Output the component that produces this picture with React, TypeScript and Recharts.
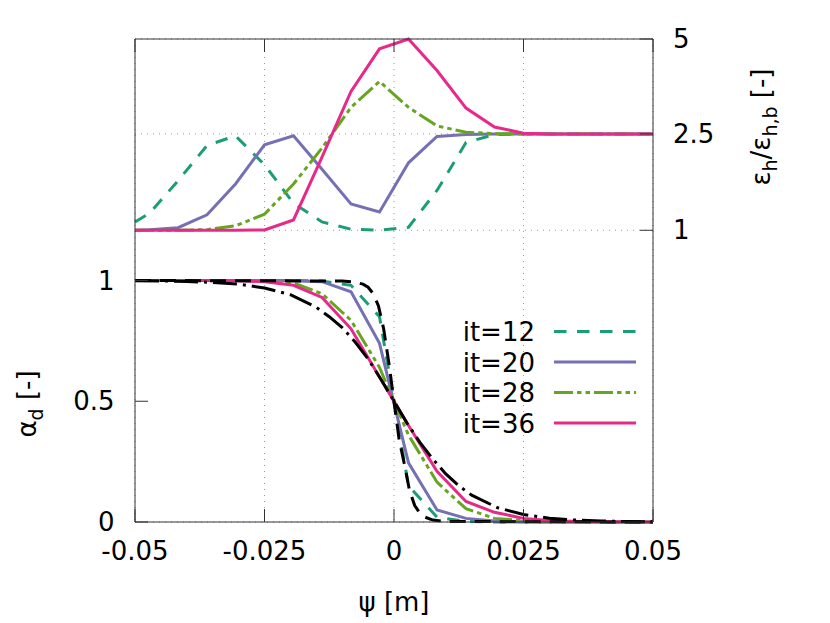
import { LineChart, Line, XAxis, YAxis, CartesianGrid, Legend } from "recharts"

const FONT = "DejaVu Sans"

// walls and the 18 cell centres of the mesh
const psi = [
  -0.05, -0.0472, -0.0417, -0.0361, -0.0306, -0.025, -0.0194, -0.0139, -0.0083, -0.0028,
  0.0028, 0.0083, 0.0139, 0.0194, 0.025, 0.0306, 0.0361, 0.0417, 0.0472, 0.05,
]

// volume fraction per iteration
const alpha12 = [1, 1, 1, 1, 1, 1, 1, 0.998, 0.98, 0.85, 0.15, 0.02, 0.002, 0, 0, 0, 0, 0, 0, 0]
const alpha20 = [1, 1, 1, 1, 1, 1, 0.999, 0.995, 0.953, 0.74, 0.245, 0.05, 0.015, 0.004, 0.001, 0, 0, 0, 0, 0]
const alpha28 = [1, 1, 1, 1, 1, 0.997, 0.99, 0.945, 0.835, 0.64, 0.36, 0.165, 0.055, 0.015, 0.006, 0.002, 0, 0, 0, 0]
const alpha36 = [1, 1, 1, 1, 0.999, 0.995, 0.98, 0.93, 0.8, 0.6, 0.4, 0.21, 0.085, 0.04, 0.015, 0.005, 0.002, 0.001, 0, 0]

// eps_h / eps_h,b per iteration
const eps12 = [1.13, 1.265, 1.77, 2.32, 2.47, 2.02, 1.42, 1.13, 1.016, 1.0, 1.047, 1.62, 2.365, 2.49, 2.5, 2.5, 2.5, 2.5, 2.5, 2.5]
const eps20 = [1.0, 1.01, 1.04, 1.24, 1.72, 2.33, 2.47, 1.95, 1.41, 1.285, 2.05, 2.46, 2.49, 2.5, 2.5, 2.5, 2.5, 2.5, 2.5, 2.5]
const eps28 = [1.0, 1.0, 1.0, 1.01, 1.07, 1.25, 1.72, 2.28, 3.2, 3.88, 3.2, 2.71, 2.545, 2.505, 2.5, 2.5, 2.5, 2.5, 2.5, 2.5]
const eps36 = [1.0, 1.0, 1.0, 1.0, 1.0, 1.005, 1.16, 2.14, 3.62, 4.74, 5.0, 4.17, 3.18, 2.68, 2.52, 2.5, 2.5, 2.5, 2.5, 2.5]

// the two reference profiles (sharp and wide)
const sharpPsi = [-0.05, -0.01, -0.0075, -0.006, -0.005, -0.004, -0.003, -0.002, -0.001, 0, 0.001, 0.002, 0.003, 0.004, 0.005, 0.006, 0.0075, 0.01, 0.05]
const sharpAlpha = [1, 0.998, 0.993, 0.985, 0.972, 0.945, 0.895, 0.8, 0.66, 0.5, 0.34, 0.24, 0.13, 0.068, 0.037, 0.02, 0.008, 0.002, 0]
const widePsi = [
  -0.05, -0.045, -0.04, -0.035, -0.03, -0.025, -0.02, -0.015, -0.0125, -0.01, -0.0075, -0.005, -0.0025, 0,
  0.0025, 0.005, 0.0075, 0.01, 0.0125, 0.015, 0.02, 0.025, 0.03, 0.035, 0.04, 0.045, 0.05,
]
const wideAlpha = [
  0.999, 0.998, 0.996, 0.992, 0.985, 0.969, 0.941, 0.889, 0.85, 0.805, 0.745, 0.675, 0.59, 0.5,
  0.41, 0.33, 0.26, 0.199, 0.15, 0.111, 0.059, 0.031, 0.016, 0.008, 0.004, 0.002, 0.001,
]

const xTicks = [-0.05, -0.025, 0, 0.025, 0.05]
const alphaTicks = [0, 0.5, 1]
const epsTicks = [1, 2.5, 5]
// the eps axis is not uniform: its ticks sit at these heights of the shared 0-2 scale
const epsTickHeights = [1.208, 1.607, 2]

function epsToAxis(e: number) {
  const k = e <= epsTicks[1] ? 0 : 1
  const t = (e - epsTicks[k]) / (epsTicks[k + 1] - epsTicks[k])
  return epsTickHeights[k] + t * (epsTickHeights[k + 1] - epsTickHeights[k])
}

const rows = (xs: number[], ys: number[]) => xs.map((x, i) => ({ x, y: ys[i] }))

const runs = [
  { name: "it=12", color: "#1b9e77", dash: "12.5 10.5", alpha: alpha12, eps: eps12 },
  { name: "it=20", color: "#7570b3", dash: undefined, alpha: alpha20, eps: eps20 },
  { name: "it=28", color: "#66a61e", dash: "19 4 4.5 4 4.5 4", alpha: alpha28, eps: eps28 },
  { name: "it=36", color: "#e7298a", dash: undefined, alpha: alpha36, eps: eps36 },
]

const tickStyle = { fontSize: 26, fill: "#000", fontFamily: FONT }

function LeftTitle() {
  return (
    <text transform="translate(36,404) rotate(-90)" textAnchor="middle" fontSize={26} fontFamily={FONT} fill="#000">
      α<tspan dy={7} fontSize={19}>d</tspan>
      <tspan dy={-7}> [-]</tspan>
    </text>
  )
}

function RightTitle() {
  return (
    <text transform="translate(770,127) rotate(-90)" textAnchor="middle" fontSize={26} fontFamily={FONT} fill="#000">
      ε<tspan dy={7} fontSize={19}>h</tspan>
      <tspan dy={-7}>/ε</tspan>
      <tspan dy={7} fontSize={19}>h,b</tspan>
      <tspan dy={-7}> [-]</tspan>
    </text>
  )
}

function BottomTitle() {
  return (
    <text x={394} y={611} textAnchor="middle" fontSize={26} fontFamily={FONT} fill="#000">
      ψ [m]
    </text>
  )
}

function RunKey() {
  return (
    <svg width={240} height={130}>
      {runs.map((r, i) => (
        <g key={r.name}>
          <text x={115} y={31 + 30.5 * i} textAnchor="end" fontSize={26} fontFamily={FONT} fill="#000">
            {r.name}
          </text>
          <line
            x1={134}
            x2={216}
            y1={21.5 + 30.5 * i}
            y2={21.5 + 30.5 * i}
            stroke={r.color}
            strokeWidth={3}
            strokeDasharray={r.dash}
          />
        </g>
      ))}
    </svg>
  )
}

export default function App() {
  return (
    <div style={{ position: "absolute", left: 0, top: 0 }}>
      <LineChart width={830} height={623} margin={{ top: 0, right: 0, bottom: 0, left: 0 }}>
        <CartesianGrid xAxisId="b" yAxisId="e" stroke="#999" strokeDasharray="1 5" />
        <XAxis
          xAxisId="b"
          dataKey="x"
          type="number"
          domain={[-0.05, 0.05]}
          ticks={xTicks}
          interval={0}
          height={101}
          tickSize={-13}
          tickMargin={33}
          tick={tickStyle}
          stroke="#333"
          label={<BottomTitle />}
        />
        <XAxis
          xAxisId="t"
          orientation="top"
          dataKey="x"
          type="number"
          domain={[-0.05, 0.05]}
          ticks={xTicks}
          interval={0}
          height={39}
          tickSize={-13}
          tickFormatter={() => ""}
          stroke="#333"
          allowDataOverflow
        />
        <YAxis
          yAxisId="a"
          type="number"
          domain={[0, 2]}
          ticks={alphaTicks}
          interval={0}
          width={135}
          tickSize={-13}
          tickMargin={33.5}
          tick={tickStyle}
          stroke="#333"
          label={<LeftTitle />}
        />
        <YAxis
          yAxisId="e"
          orientation="right"
          type="number"
          domain={[0, 2]}
          ticks={epsTickHeights}
          interval={0}
          width={177}
          tickSize={-13}
          tickMargin={33}
          tick={tickStyle}
          tickFormatter={(_v: number, i: number) => String(epsTicks[i])}
          stroke="#333"
          label={<RightTitle />}
        />
        <Legend
          layout="vertical"
          align="center"
          verticalAlign="middle"
          wrapperStyle={{ left: 420, top: 310, width: 240, height: 130 }}
          content={() => <RunKey />}
        />
        {runs.map((r) => (
          <Line
            key={"eps" + r.name}
            xAxisId="b"
            yAxisId="e"
            data={rows(psi, r.eps.map(epsToAxis))}
            dataKey="y"
            type="linear"
            stroke={r.color}
            strokeWidth={3}
            strokeDasharray={r.dash}
            dot={false}
            activeDot={false}
            isAnimationActive={false}
          />
        ))}
        {runs.map((r) => (
          <Line
            key={"alpha" + r.name}
            xAxisId="b"
            yAxisId="a"
            data={rows(psi, r.alpha)}
            dataKey="y"
            type="linear"
            stroke={r.color}
            strokeWidth={3}
            strokeDasharray={r.dash}
            dot={false}
            activeDot={false}
            isAnimationActive={false}
          />
        ))}
        <Line
          xAxisId="b"
          yAxisId="a"
          data={rows(sharpPsi, sharpAlpha)}
          dataKey="y"
          type="linear"
          stroke="#000"
          strokeWidth={3}
          strokeDasharray="16 9"
          dot={false}
          activeDot={false}
          isAnimationActive={false}
        />
        <Line
          xAxisId="b"
          yAxisId="a"
          data={rows(widePsi, wideAlpha)}
          dataKey="y"
          type="linear"
          stroke="#000"
          strokeWidth={3}
          strokeDasharray="24 6 3 6"
          dot={false}
          activeDot={false}
          isAnimationActive={false}
        />
      </LineChart>
    </div>
  )
}
